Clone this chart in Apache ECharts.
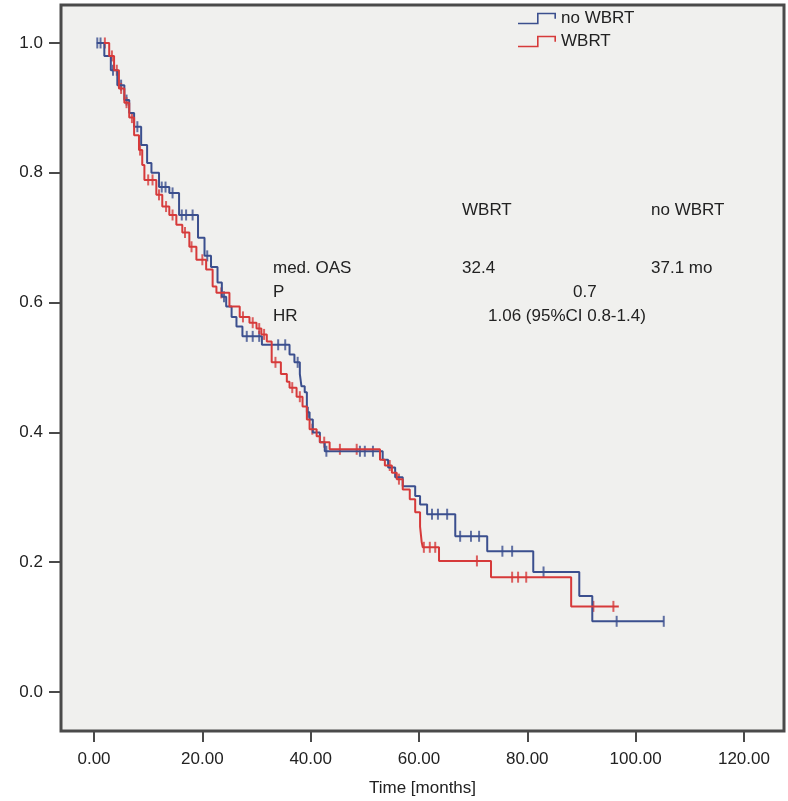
<!DOCTYPE html>
<html>
<head>
<meta charset="utf-8">
<title>Overall survival WBRT vs no WBRT</title>
<script src="https://cdn.jsdelivr.net/npm/echarts@6/dist/echarts.min.js"></script>
<style>
  html, body { margin: 0; padding: 0; background: #fff; }
  #chart { width: 788px; height: 801px; }
</style>
</head>
<body>
<div id="chart"></div>
<script>
// axis ticks
const timeTicks = [0, 20, 40, 60, 80, 100, 120];
const survTicks = [0, 0.2, 0.4, 0.6, 0.8, 1.0];

// Kaplan-Meier steps: [month, survival from that month on]
const noWbrtSteps = [
  [0.5, 1.0], [1.9, 0.98], [3.1, 0.958], [4.3, 0.935], [5.6, 0.912], [6.5, 0.892],
  [7.4, 0.871], [8.7, 0.843], [9.8, 0.815], [10.6, 0.8], [12.0, 0.778], [13.9, 0.769],
  [15.7, 0.735], [19.2, 0.7], [20.4, 0.672], [21.6, 0.655], [22.8, 0.631], [23.6, 0.609],
  [24.4, 0.594], [25.4, 0.578], [26.3, 0.563], [27.4, 0.548], [31.0, 0.535], [36.1, 0.52],
  [37.0, 0.508], [38.0, 0.49], [38.3, 0.471], [38.9, 0.462], [39.3, 0.431], [39.8, 0.42],
  [40.4, 0.4], [41.7, 0.385], [42.6, 0.371], [53.3, 0.358], [54.3, 0.346], [55.6, 0.331],
  [57.0, 0.317], [59.3, 0.302], [60.2, 0.289], [61.5, 0.274], [66.7, 0.24], [72.6, 0.217],
  [81.1, 0.185], [89.6, 0.148], [92.0, 0.109], [105.2, 0.109]
];
const noWbrtCensored = [
  0.6, 1.2, 3.5, 5.0, 6.0, 8.0, 12.5, 13.2, 14.5, 16.2, 17.0, 18.2, 20.9, 24.0, 28.2,
  29.3, 30.5, 34.0, 35.3, 37.6, 39.5, 42.9, 49.1, 50.0, 51.5, 62.4, 63.5, 65.2, 67.6,
  69.6, 71.1, 75.4, 77.2, 83.0, 96.5, 105.2
];

const wbrtSteps = [
  [1.8, 1.0], [2.8, 0.98], [3.7, 0.958], [4.6, 0.93], [5.6, 0.908], [6.5, 0.885],
  [7.4, 0.858], [8.3, 0.835], [8.9, 0.812], [9.3, 0.789], [11.5, 0.766], [12.6, 0.748],
  [13.9, 0.735], [15.2, 0.72], [16.3, 0.708], [17.6, 0.686], [18.9, 0.666], [20.7, 0.651],
  [21.9, 0.625], [22.6, 0.615], [25.0, 0.594], [26.9, 0.578], [28.7, 0.569], [30.0, 0.56],
  [30.9, 0.551], [31.9, 0.54], [32.8, 0.508], [34.5, 0.49], [35.6, 0.478], [36.1, 0.469],
  [37.4, 0.455], [38.5, 0.44], [39.3, 0.42], [39.8, 0.405], [41.1, 0.394], [41.7, 0.385],
  [43.5, 0.374], [52.8, 0.358], [53.7, 0.349], [55.0, 0.338], [55.9, 0.328], [57.0, 0.312],
  [58.3, 0.297], [59.3, 0.277], [60.2, 0.255], [60.5, 0.231], [60.7, 0.223], [63.7, 0.202],
  [73.3, 0.177], [88.1, 0.132], [96.9, 0.132]
];
const wbrtCensored = [
  2.0, 3.3, 4.2, 5.0, 6.0, 7.0, 8.5, 10.0, 10.8, 12.0, 13.3, 14.5, 16.8, 18.0, 20.0,
  23.5, 27.5, 29.3, 30.5, 31.4, 33.5, 36.6, 38.0, 40.3, 42.5, 45.4, 48.5, 54.6, 56.3,
  60.9, 62.0, 63.0, 70.7, 77.2, 78.3, 79.8, 92.2, 95.9
];

// summary table text
const tableRows = [
  ['', 'WBRT', 'no WBRT'],
  ['med. OAS', '32.4', '37.1 mo'],
  ['P', '0.7'],
  ['HR', '1.06 (95%CI 0.8-1.4)']
];

const blue = '#3b4f8e';
const red = '#d63a3a';
const font = '"Liberation Sans", Arial, sans-serif';
const textColor = '#222';

// survival level at a censoring time
function levelAt(steps, t) {
  let s = steps[0][1];
  steps.forEach(function (p) {
    if (p[0] <= t) s = p[1];
  });
  return s;
}

function censorPoints(steps, times) {
  return times.map(function (t) { return [t, levelAt(steps, t)]; });
}

// step icon for the legend (thin filled outline)
const stepIcon = 'path://M0,11 L19,11 L19,1 L38,1 L38,7 L36.4,7 L36.4,2.6 L20.6,2.6 L20.6,12.6 L0,12.6 Z';

const chart = echarts.init(document.getElementById('chart'));

const textEls = [
  { text: tableRows[0][1], x: 462, y: 210 },
  { text: tableRows[0][2], x: 651, y: 210 },
  { text: tableRows[1][0], x: 273, y: 268 },
  { text: tableRows[1][1], x: 462, y: 268 },
  { text: tableRows[1][2], x: 651, y: 268 },
  { text: tableRows[2][0], x: 273, y: 292 },
  { text: tableRows[2][1], x: 573, y: 292 },
  { text: tableRows[3][0], x: 273, y: 316 },
  { text: tableRows[3][1], x: 488, y: 316 }
].map(function (d) {
  return {
    type: 'text',
    x: d.x,
    y: d.y,
    z: 10,
    style: {
      text: d.text,
      fill: textColor,
      font: '17px ' + font,
      verticalAlign: 'middle'
    }
  };
});

const option = {
  animation: false,
  backgroundColor: '#fff',
  grid: {
    left: 61,
    right: 4,
    top: 5,
    bottom: 70,
    outerBoundsMode: 'none',
    show: true,
    backgroundColor: '#f0f0ee',
    borderColor: '#4a4a4a',
    borderWidth: 3
  },
  legend: {
    orient: 'vertical',
    left: 518,
    top: 10,
    padding: 0,
    itemWidth: 38,
    itemHeight: 12.6,
    itemGap: 6,
    selectedMode: false,
    textStyle: { fontFamily: font, fontSize: 17, color: textColor },
    data: [
      { name: 'no WBRT', icon: stepIcon },
      { name: 'WBRT', icon: stepIcon }
    ]
  },
  xAxis: {
    type: 'value',
    min: -6.1,
    max: 127.4,
    name: 'Time [months]',
    nameLocation: 'middle',
    nameGap: 49,
    nameTextStyle: { fontFamily: font, fontSize: 17, color: textColor },
    axisLine: { show: false, onZero: false },
    splitLine: { show: false },
    axisTick: {
      show: true,
      inside: false,
      customValues: timeTicks,
      length: 11,
      lineStyle: { color: '#4a4a4a', width: 2 }
    },
    axisLabel: {
      customValues: timeTicks,
      margin: 20,
      fontFamily: font,
      fontSize: 17,
      color: textColor,
      formatter: function (v) { return v.toFixed(2); }
    }
  },
  yAxis: {
    type: 'value',
    min: -0.06,
    max: 1.0585,
    axisLine: { show: false, onZero: false },
    splitLine: { show: false },
    axisTick: {
      show: true,
      inside: false,
      customValues: survTicks,
      length: 12,
      lineStyle: { color: '#4a4a4a', width: 2 }
    },
    axisLabel: {
      customValues: survTicks,
      margin: 18,
      fontFamily: font,
      fontSize: 17,
      color: textColor,
      formatter: function (v) { return v.toFixed(1); }
    }
  },
  graphic: textEls,
  series: [
    {
      name: 'no WBRT',
      type: 'line',
      step: 'end',
      showSymbol: false,
      color: blue,
      lineStyle: { width: 2, color: blue },
      data: noWbrtSteps
    },
    {
      name: 'WBRT',
      type: 'line',
      step: 'end',
      showSymbol: false,
      color: red,
      lineStyle: { width: 2, color: red },
      data: wbrtSteps
    },
    {
      name: 'no WBRT',
      type: 'scatter',
      symbol: 'rect',
      symbolSize: [2, 11],
      itemStyle: { color: blue },
      data: censorPoints(noWbrtSteps, noWbrtCensored)
    },
    {
      name: 'WBRT',
      type: 'scatter',
      symbol: 'rect',
      symbolSize: [2, 11],
      itemStyle: { color: red },
      data: censorPoints(wbrtSteps, wbrtCensored)
    }
  ]
};

chart.setOption(option);
</script>
</body>
</html>
